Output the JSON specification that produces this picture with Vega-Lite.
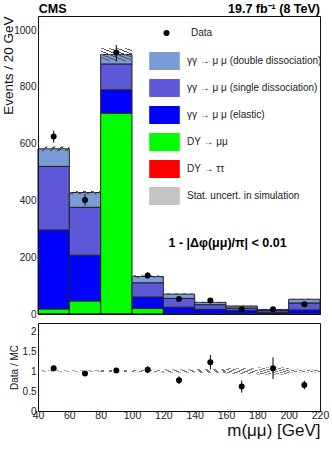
{
  "$schema": "https://vega.github.io/schema/vega-lite/v6.json",
  "padding": {"left": 1, "top": 2, "right": 10, "bottom": 5},
  "config": {
    "font": "Liberation Sans",
    "view": {"stroke": "#111", "strokeWidth": 1},
    "axis": {"domainColor": "#111", "tickColor": "#111", "labelColor": "#222", "titleColor": "#111", "grid": false, "labelFont": "Liberation Sans", "titleFont": "Liberation Sans", "titleFontWeight": "normal", "labelOverlap": false, "zindex": 1},
    "concat": {"spacing": 1}
  },
  "datasets": {
    "stack": [
      {"a": 40, "b": 60, "proc": "DY → ττ", "n": 0.5, "ord": 1},
      {"a": 40, "b": 60, "proc": "DY → μμ", "n": 17.5, "ord": 2},
      {"a": 40, "b": 60, "proc": "γγ → μ μ (elastic)", "n": 278, "ord": 3},
      {"a": 40, "b": 60, "proc": "γγ → μ μ (single dissociation)", "n": 224, "ord": 4},
      {"a": 40, "b": 60, "proc": "γγ → μ μ (double dissociation)", "n": 62, "ord": 5},
      {"a": 60, "b": 80, "proc": "DY → ττ", "n": 0.5, "ord": 1},
      {"a": 60, "b": 80, "proc": "DY → μμ", "n": 45.5, "ord": 2},
      {"a": 60, "b": 80, "proc": "γγ → μ μ (elastic)", "n": 161, "ord": 3},
      {"a": 60, "b": 80, "proc": "γγ → μ μ (single dissociation)", "n": 169, "ord": 4},
      {"a": 60, "b": 80, "proc": "γγ → μ μ (double dissociation)", "n": 52, "ord": 5},
      {"a": 80, "b": 100, "proc": "DY → ττ", "n": 1, "ord": 1},
      {"a": 80, "b": 100, "proc": "DY → μμ", "n": 707, "ord": 2},
      {"a": 80, "b": 100, "proc": "γγ → μ μ (elastic)", "n": 82, "ord": 3},
      {"a": 80, "b": 100, "proc": "γγ → μ μ (single dissociation)", "n": 91, "ord": 4},
      {"a": 80, "b": 100, "proc": "γγ → μ μ (double dissociation)", "n": 33, "ord": 5},
      {"a": 100, "b": 120, "proc": "DY → ττ", "n": 0.2, "ord": 1},
      {"a": 100, "b": 120, "proc": "DY → μμ", "n": 19.8, "ord": 2},
      {"a": 100, "b": 120, "proc": "γγ → μ μ (elastic)", "n": 40, "ord": 3},
      {"a": 100, "b": 120, "proc": "γγ → μ μ (single dissociation)", "n": 50, "ord": 4},
      {"a": 100, "b": 120, "proc": "γγ → μ μ (double dissociation)", "n": 22, "ord": 5},
      {"a": 120, "b": 140, "proc": "DY → ττ", "n": 0, "ord": 1},
      {"a": 120, "b": 140, "proc": "DY → μμ", "n": 1, "ord": 2},
      {"a": 120, "b": 140, "proc": "γγ → μ μ (elastic)", "n": 23, "ord": 3},
      {"a": 120, "b": 140, "proc": "γγ → μ μ (single dissociation)", "n": 31, "ord": 4},
      {"a": 120, "b": 140, "proc": "γγ → μ μ (double dissociation)", "n": 15, "ord": 5},
      {"a": 140, "b": 160, "proc": "DY → ττ", "n": 0, "ord": 1},
      {"a": 140, "b": 160, "proc": "DY → μμ", "n": 1, "ord": 2},
      {"a": 140, "b": 160, "proc": "γγ → μ μ (elastic)", "n": 15, "ord": 3},
      {"a": 140, "b": 160, "proc": "γγ → μ μ (single dissociation)", "n": 17, "ord": 4},
      {"a": 140, "b": 160, "proc": "γγ → μ μ (double dissociation)", "n": 8, "ord": 5},
      {"a": 160, "b": 180, "proc": "DY → ττ", "n": 0, "ord": 1},
      {"a": 160, "b": 180, "proc": "DY → μμ", "n": 0.5, "ord": 2},
      {"a": 160, "b": 180, "proc": "γγ → μ μ (elastic)", "n": 11.5, "ord": 3},
      {"a": 160, "b": 180, "proc": "γγ → μ μ (single dissociation)", "n": 9, "ord": 4},
      {"a": 160, "b": 180, "proc": "γγ → μ μ (double dissociation)", "n": 7, "ord": 5},
      {"a": 180, "b": 200, "proc": "DY → ττ", "n": 0, "ord": 1},
      {"a": 180, "b": 200, "proc": "DY → μμ", "n": 0.3, "ord": 2},
      {"a": 180, "b": 200, "proc": "γγ → μ μ (elastic)", "n": 5.7, "ord": 3},
      {"a": 180, "b": 200, "proc": "γγ → μ μ (single dissociation)", "n": 6, "ord": 4},
      {"a": 180, "b": 200, "proc": "γγ → μ μ (double dissociation)", "n": 4, "ord": 5},
      {"a": 200, "b": 220, "proc": "DY → ττ", "n": 0, "ord": 1},
      {"a": 200, "b": 220, "proc": "DY → μμ", "n": 0.5, "ord": 2},
      {"a": 200, "b": 220, "proc": "γγ → μ μ (elastic)", "n": 13.5, "ord": 3},
      {"a": 200, "b": 220, "proc": "γγ → μ μ (single dissociation)", "n": 25, "ord": 4},
      {"a": 200, "b": 220, "proc": "γγ → μ μ (double dissociation)", "n": 13, "ord": 5}
    ],
    "pts": [
      {"m": 50, "n": 625, "nlo": 604, "nhi": 646, "r": 1.07, "rlo": 1.02, "rhi": 1.12, "lab": "Data"},
      {"m": 70, "n": 402, "nlo": 382, "nhi": 422, "r": 0.94, "rlo": 0.89, "rhi": 0.99, "lab": "Data"},
      {"m": 90, "n": 921, "nlo": 891, "nhi": 948, "r": 1.01, "rlo": 0.975, "rhi": 1.045, "lab": "Data"},
      {"m": 110, "n": 136, "nlo": 124, "nhi": 148, "r": 1.03, "rlo": 0.94, "rhi": 1.12, "lab": "Data"},
      {"m": 130, "n": 53, "nlo": 46, "nhi": 60, "r": 0.77, "rlo": 0.67, "rhi": 0.87, "lab": "Data"},
      {"m": 150, "n": 48, "nlo": 41, "nhi": 55, "r": 1.22, "rlo": 1.04, "rhi": 1.4, "lab": "Data"},
      {"m": 170, "n": 17, "nlo": 13, "nhi": 21, "r": 0.61, "rlo": 0.46, "rhi": 0.76, "lab": "Data"},
      {"m": 190, "n": 17, "nlo": 13, "nhi": 21, "r": 1.07, "rlo": 0.8, "rhi": 1.34, "lab": "Data"},
      {"m": 210, "n": 34, "nlo": 28, "nhi": 40, "r": 0.65, "rlo": 0.54, "rhi": 0.76, "lab": "Data"}
    ],
    "unc": [
      {"a": 40, "b": 60, "lo": 574, "hi": 590, "rlo": 0.985, "rhi": 1.015},
      {"a": 60, "b": 80, "lo": 422, "hi": 434, "rlo": 0.985, "rhi": 1.015},
      {"a": 80, "b": 100, "lo": 892, "hi": 936, "rlo": 0.975, "rhi": 1.025},
      {"a": 100, "b": 120, "lo": 128, "hi": 136, "rlo": 0.97, "rhi": 1.03},
      {"a": 120, "b": 140, "lo": 67, "hi": 73, "rlo": 0.96, "rhi": 1.04},
      {"a": 140, "b": 160, "lo": 39, "hi": 43, "rlo": 0.955, "rhi": 1.045},
      {"a": 160, "b": 180, "lo": 26, "hi": 30, "rlo": 0.93, "rhi": 1.07},
      {"a": 180, "b": 200, "lo": 14.5, "hi": 17.5, "rlo": 0.91, "rhi": 1.09},
      {"a": 200, "b": 220, "lo": 50, "hi": 54, "rlo": 0.965, "rhi": 1.035}
    ]
  },
  "vconcat": [
    {
      "width": 282,
      "height": 298,
      "layer": [
        {
          "data": {"name": "stack"},
          "transform": [{"stack": "n", "groupby": ["a"], "sort": [{"field": "ord", "order": "ascending"}], "as": ["y0", "y1"]}],
          "mark": {"type": "rect", "stroke": "#222", "strokeWidth": 1},
          "encoding": {
            "x": {"field": "a", "type": "quantitative", "scale": {"domain": [40, 220], "nice": false},
              "axis": {"title": null, "labels": false, "zindex": 1, "tickCount": 100, "values": [40,44,48,52,56,60,64,68,72,76,80,84,88,92,96,100,104,108,112,116,120,124,128,132,136,140,144,148,152,156,160,164,168,172,176,180,184,188,192,196,200,204,208,212,216,220],
                "tickSize": 0, "labelPadding": 0, "encode": {"ticks": {"update": {"y2": {"signal": "datum.value % 20 === 0 ? -7 : -3.5"}}}}}},
            "x2": {"field": "b"},
            "y": {"field": "y0", "type": "quantitative", "scale": {"domain": [0, 1050], "nice": false},
              "axis": {"title": "Events / 20 GeV", "titleFontSize": 13.5, "titleAnchor": "end", "titlePadding": -2, "format": "d", "zindex": 1, "labelOverlap": false, "tickCount": 100,
                "values": [0,50,100,150,200,250,300,350,400,450,500,550,600,650,700,750,800,850,900,950,1000],
                "labelExpr": "datum.value % 200 === 0 ? datum.label : ''", "labelFontSize": 10, "labelPadding": 2,
                "tickSize": 0, "encode": {"ticks": {"update": {"x2": {"signal": "datum.value % 200 === 0 ? 8 : 4"}}}}}},
            "y2": {"field": "y1"},
            "color": {"field": "proc", "type": "nominal",
              "scale": {"domain": ["γγ → μ μ (double dissociation)", "γγ → μ μ (single dissociation)", "γγ → μ μ (elastic)", "DY → μμ", "DY → ττ", "Stat. uncert. in simulation"],
                "range": ["#7b9bd6", "#5c58d8", "#0000ff", "#00ff00", "#ff0000", "#c4c4c4"]},
              "legend": {"orient": "none", "legendX": 117.5, "legendY": 36, "title": null, "symbolType": "M-1.7,-1L1.7,-1L1.7,1L-1.7,1Z", "symbolSize": 324, "labelFontSize": 10, "labelFont": "Liberation Sans", "labelColor": "#222", "rowPadding": 9, "labelOffset": 13.5, "labelLimit": 250, "symbolStrokeWidth": 0, "symbolOpacity": 1}}
          }
        },
        {
          "data": {"name": "unc"},
          "mark": {"type": "rect", "fill": {"gradient": "linear", "x1": 0, "y1": 1, "x2": 1, "y2": 0, "stops": [
            {"offset": 0, "color": "#555"}, {"offset": 0.04, "color": "#555"}, {"offset": 0.04, "color": "rgba(255,255,255,0)"}, {"offset": 0.125, "color": "rgba(255,255,255,0)"},
            {"offset": 0.125, "color": "#555"}, {"offset": 0.165, "color": "#555"}, {"offset": 0.165, "color": "rgba(255,255,255,0)"}, {"offset": 0.25, "color": "rgba(255,255,255,0)"},
            {"offset": 0.25, "color": "#555"}, {"offset": 0.29, "color": "#555"}, {"offset": 0.29, "color": "rgba(255,255,255,0)"}, {"offset": 0.375, "color": "rgba(255,255,255,0)"},
            {"offset": 0.375, "color": "#555"}, {"offset": 0.415, "color": "#555"}, {"offset": 0.415, "color": "rgba(255,255,255,0)"}, {"offset": 0.5, "color": "rgba(255,255,255,0)"},
            {"offset": 0.5, "color": "#555"}, {"offset": 0.54, "color": "#555"}, {"offset": 0.54, "color": "rgba(255,255,255,0)"}, {"offset": 0.625, "color": "rgba(255,255,255,0)"},
            {"offset": 0.625, "color": "#555"}, {"offset": 0.665, "color": "#555"}, {"offset": 0.665, "color": "rgba(255,255,255,0)"}, {"offset": 0.75, "color": "rgba(255,255,255,0)"},
            {"offset": 0.75, "color": "#555"}, {"offset": 0.79, "color": "#555"}, {"offset": 0.79, "color": "rgba(255,255,255,0)"}, {"offset": 0.875, "color": "rgba(255,255,255,0)"},
            {"offset": 0.875, "color": "#555"}, {"offset": 0.915, "color": "#555"}, {"offset": 0.915, "color": "rgba(255,255,255,0)"}, {"offset": 1, "color": "rgba(255,255,255,0)"}]}},
          "encoding": {
            "x": {"field": "a", "type": "quantitative"},
            "x2": {"field": "b"},
            "y": {"field": "lo", "type": "quantitative"},
            "y2": {"field": "hi"}
          }
        },
        {
          "data": {"name": "pts"},
          "mark": {"type": "rule", "color": "#000", "strokeWidth": 1},
          "encoding": {
            "x": {"field": "m", "type": "quantitative"},
            "y": {"field": "nlo", "type": "quantitative"},
            "y2": {"field": "nhi"}
          }
        },
        {
          "data": {"name": "pts"},
          "mark": {"type": "point", "filled": true, "color": "#000", "size": 36, "opacity": 1},
          "encoding": {
            "x": {"field": "m", "type": "quantitative"},
            "y": {"field": "n", "type": "quantitative"},
            "shape": {"field": "lab", "type": "nominal", "scale": {"domain": ["Data"], "range": ["circle"]},
              "legend": {"orient": "none", "legendX": 123.5, "legendY": 12, "title": null, "symbolSize": 36, "symbolFillColor": "#000", "symbolStrokeWidth": 0, "labelFontSize": 10, "labelFont": "Liberation Sans", "labelColor": "#222", "labelOffset": 19.5}}
          }
        },
        {
          "data": {"values": [{"t": "1 - |Δφ(μμ)/π| < 0.01"}]},
          "mark": {"type": "text", "fontSize": 12.5, "fontWeight": "bold", "font": "Liberation Sans", "align": "center", "baseline": "middle", "color": "#000"},
          "encoding": {"x": {"datum": 161}, "y": {"datum": 250}, "text": {"field": "t"}}
        },
        {
          "data": {"values": [{"t": "CMS"}]},
          "mark": {"type": "text", "fontSize": 12.5, "fontWeight": "bold", "font": "Liberation Sans", "align": "left", "baseline": "alphabetic", "color": "#000", "clip": false},
          "encoding": {"x": {"datum": 40.5}, "y": {"datum": 1061}, "text": {"field": "t"}}
        },
        {
          "data": {"values": [{"t": "19.7 fb⁻¹ (8 TeV)"}]},
          "mark": {"type": "text", "fontSize": 12.5, "fontWeight": "bold", "font": "Liberation Sans", "align": "right", "baseline": "alphabetic", "color": "#000", "clip": false},
          "encoding": {"x": {"datum": 220}, "y": {"datum": 1061}, "text": {"field": "t"}}
        }
      ]
    },
    {
      "width": 282,
      "height": 88,
      "layer": [
        {
          "data": {"name": "unc"},
          "mark": {"type": "rect", "fill": {"gradient": "linear", "x1": 0, "y1": 1, "x2": 1, "y2": 0, "stops": [
            {"offset": 0, "color": "#777"}, {"offset": 0.05, "color": "#777"}, {"offset": 0.05, "color": "rgba(255,255,255,0)"}, {"offset": 0.125, "color": "rgba(255,255,255,0)"},
            {"offset": 0.125, "color": "#777"}, {"offset": 0.175, "color": "#777"}, {"offset": 0.175, "color": "rgba(255,255,255,0)"}, {"offset": 0.25, "color": "rgba(255,255,255,0)"},
            {"offset": 0.25, "color": "#777"}, {"offset": 0.3, "color": "#777"}, {"offset": 0.3, "color": "rgba(255,255,255,0)"}, {"offset": 0.375, "color": "rgba(255,255,255,0)"},
            {"offset": 0.375, "color": "#777"}, {"offset": 0.425, "color": "#777"}, {"offset": 0.425, "color": "rgba(255,255,255,0)"}, {"offset": 0.5, "color": "rgba(255,255,255,0)"},
            {"offset": 0.5, "color": "#777"}, {"offset": 0.55, "color": "#777"}, {"offset": 0.55, "color": "rgba(255,255,255,0)"}, {"offset": 0.625, "color": "rgba(255,255,255,0)"},
            {"offset": 0.625, "color": "#777"}, {"offset": 0.675, "color": "#777"}, {"offset": 0.675, "color": "rgba(255,255,255,0)"}, {"offset": 0.75, "color": "rgba(255,255,255,0)"},
            {"offset": 0.75, "color": "#777"}, {"offset": 0.8, "color": "#777"}, {"offset": 0.8, "color": "rgba(255,255,255,0)"}, {"offset": 0.875, "color": "rgba(255,255,255,0)"},
            {"offset": 0.875, "color": "#777"}, {"offset": 0.925, "color": "#777"}, {"offset": 0.925, "color": "rgba(255,255,255,0)"}, {"offset": 1, "color": "rgba(255,255,255,0)"}]}},
          "encoding": {
            "x": {"field": "a", "type": "quantitative", "scale": {"domain": [40, 220], "nice": false},
              "axis": {"title": "m(μμ) [GeV]", "titleFontSize": 17, "titleAnchor": "end", "titlePadding": 2, "titleColor": "#111", "zindex": 1, "labelOverlap": false, "labelFlush": false, "tickCount": 100,
                "values": [40,44,48,52,56,60,64,68,72,76,80,84,88,92,96,100,104,108,112,116,120,124,128,132,136,140,144,148,152,156,160,164,168,172,176,180,184,188,192,196,200,204,208,212,216,220], "format": "d",
                "labelExpr": "datum.value % 20 === 0 ? datum.label : ''", "labelFontSize": 10.5, "labelPadding": -1,
                "tickSize": 0, "encode": {"ticks": {"update": {"y2": {"signal": "datum.value % 20 === 0 ? -7 : -3.5"}}}}}},
            "x2": {"field": "b"},
            "y": {"field": "rlo", "type": "quantitative", "scale": {"domain": [0, 2.2], "nice": false},
              "axis": {"title": "Data / MC", "titleFontSize": 10, "titlePadding": 3, "format": "~g", "zindex": 1, "labelOverlap": false, "tickCount": 100,
                "values": [0,0.1,0.2,0.3,0.4,0.5,0.6,0.7,0.8,0.9,1,1.1,1.2,1.3,1.4,1.5,1.6,1.7,1.8,1.9,2,2.1],
                "labelExpr": "abs(datum.value*2 - round(datum.value*2)) < 0.001 ? datum.label : ''", "labelFontSize": 10, "labelPadding": 2,
                "tickSize": 0, "encode": {"ticks": {"update": {"x2": {"signal": "abs(datum.value*2 - round(datum.value*2)) < 0.001 ? 8 : 4"}}}}}},
            "y2": {"field": "rhi"}
          }
        },
        {
          "mark": {"type": "rule", "color": "#000", "strokeDash": [3, 2], "strokeWidth": 1},
          "encoding": {"y": {"datum": 1}}
        },
        {
          "data": {"name": "pts"},
          "mark": {"type": "rule", "color": "#000", "strokeWidth": 1},
          "encoding": {
            "x": {"field": "m", "type": "quantitative"},
            "y": {"field": "rlo", "type": "quantitative"},
            "y2": {"field": "rhi"}
          }
        },
        {
          "data": {"name": "pts"},
          "mark": {"type": "circle", "color": "#000", "size": 36, "opacity": 1},
          "encoding": {
            "x": {"field": "m", "type": "quantitative"},
            "y": {"field": "r", "type": "quantitative"}
          }
        }
      ]
    }
  ]
}
